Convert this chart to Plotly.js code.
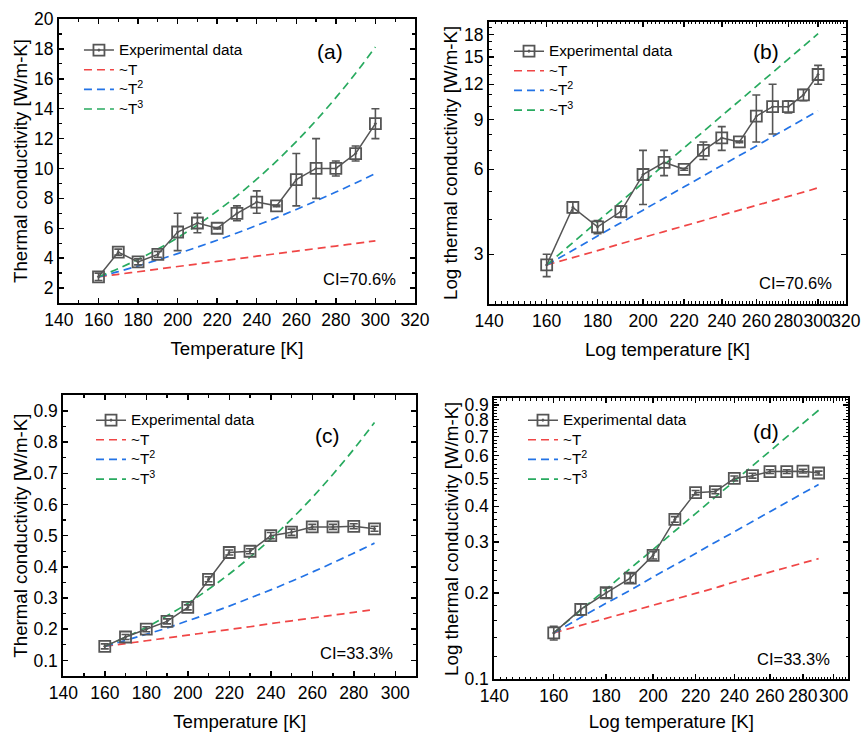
<!DOCTYPE html>
<html>
<head>
<meta charset="utf-8">
<script src="https://cdn.plot.ly/plotly-3.0.1.min.js"></script>
<style>html,body{margin:0;padding:0;background:#fff;}#chart{width:862px;height:732px;}</style>
</head>
<body>
<div id="chart"></div>
<script>
// ---------- data: CI = 70.6% (panels a, b) ----------
const tempA = [160,170,180,190,200,210,220,230,240,250,260,270,280,290,300];
const expA  = [2.75,4.4,3.75,4.25,5.75,6.35,6.0,7.0,7.75,7.5,9.25,10.0,10.0,11.0,13.0];
const errA  = [0.25,0.2,0.2,0.2,1.25,0.65,0.05,0.5,0.75,0.05,1.75,2.0,0.5,0.5,1.0];
const fitA_T  = [2.75,2.92,3.09,3.27,3.44,3.61,3.78,3.95,4.13,4.30,4.47,4.64,4.81,4.98,5.16];
const fitA_T2 = [2.75,3.10,3.48,3.88,4.30,4.74,5.20,5.68,6.19,6.71,7.26,7.83,8.42,9.03,9.67];
const fitA_T3 = [2.75,3.30,3.92,4.61,5.37,6.22,7.15,8.17,9.28,10.49,11.80,13.21,14.74,16.37,18.13];

// ---------- data: CI = 33.3% (panels c, d) ----------
const tempC = [160,170,180,190,200,210,220,230,240,250,260,270,280,290];
const expC  = [0.145,0.175,0.200,0.225,0.270,0.360,0.446,0.450,0.500,0.511,0.528,0.528,0.530,0.522];
const errC  = [0.008,0.008,0.008,0.008,0.008,0.008,0.008,0.008,0.010,0.010,0.008,0.008,0.008,0.008];
const fitC_T  = [0.145,0.154,0.163,0.172,0.181,0.190,0.199,0.208,0.218,0.227,0.236,0.245,0.254,0.263];
const fitC_T2 = [0.145,0.164,0.184,0.204,0.227,0.250,0.274,0.300,0.326,0.354,0.383,0.413,0.444,0.476];
const fitC_T3 = [0.145,0.174,0.206,0.243,0.283,0.328,0.377,0.431,0.489,0.553,0.622,0.697,0.777,0.863];

const legendNames = ['Experimental data', '~T', '~T<sup>2</sup>', '~T<sup>3</sup>'];
const panelLabels = ['(a)', '(b)', '(c)', '(d)'];
const ciLabels = ['CI=70.6%', 'CI=70.6%', 'CI=33.3%', 'CI=33.3%'];
const xTitles = ['Temperature [K]', 'Log temperature [K]', 'Temperature [K]', 'Log temperature [K]'];
const yTitles = ['Thermal conductivity [W/m-K]', 'Log thermal conductivity [W/m-K]',
                 'Thermal conductivity [W/m-K]', 'Log thermal conductivity [W/m-K]'];

// ---------- styles ----------
const FONT = 'Liberation Sans, Arial, Helvetica, sans-serif';
const RED = 'rgb(240,70,70)', BLUE = 'rgb(35,115,230)', GREEN = 'rgb(40,170,95)', GREY = 'rgb(85,85,85)';
const DASH = '8px,5px';
const legendText = (s) => '<span style="font-size:15.3px">' + s + '</span>';

const panels = [
  {t: tempA, e: expA, err: errA, f1: fitA_T, f2: fitA_T2, f3: fitA_T3},
  {t: tempA, e: expA, err: errA, f1: fitA_T, f2: fitA_T2, f3: fitA_T3},
  {t: tempC, e: expC, err: errC, f1: fitC_T, f2: fitC_T2, f3: fitC_T3},
  {t: tempC, e: expC, err: errC, f1: fitC_T, f2: fitC_T2, f3: fitC_T3}
];

const traces = [];
panels.forEach((p, i) => {
  const sfx = i === 0 ? '' : String(i + 1);
  const xa = 'x' + sfx, ya = 'y' + sfx, lg = 'legend' + sfx;
  const fits = [[p.f1, RED, 2], [p.f2, BLUE, 3], [p.f3, GREEN, 4]];
  fits.forEach((f, k) => {
    traces.push({
      x: p.t, y: f[0], type: 'scatter', mode: 'lines', xaxis: xa, yaxis: ya,
      name: legendText(legendNames[k + 1]), legend: lg, legendrank: f[2],
      line: {color: f[1], width: 1.7, dash: DASH, shape: 'spline'}
    });
  });
  traces.push({
    x: p.t, y: p.e, type: 'scatter', mode: 'lines+markers', xaxis: xa, yaxis: ya,
    name: legendText(legendNames[0]), legend: lg, legendrank: 1,
    line: {color: GREY, width: 1.5},
    marker: {symbol: 'square-open-dot', size: 11, color: GREY, line: {color: GREY, width: 1.8}},
    error_y: {type: 'data', array: p.err, visible: true, color: GREY, thickness: 1.6, width: 4}
  });
});

// ---------- layout ----------
const baseAxis = {
  showline: true, linecolor: 'black', linewidth: 2, mirror: 'allticks',
  ticks: 'inside', ticklen: 5, tickwidth: 1.5, tickcolor: 'black',
  showgrid: false, zeroline: false, tickangle: 0,
  tickfont: {family: FONT, size: 17.5, color: 'black'}
};
function range(a, b, s) { const r = []; for (let v = a; v <= b + 1e-9; v += s) r.push(+v.toFixed(4)); return r; }
function xAx(extra, i) {
  return Object.assign({}, baseAxis, {
    title: {text: xTitles[i], font: {family: FONT, size: 18.7, color: 'black'}, standoff: 13}
  }, extra);
}
function yAx(extra, i) {
  return Object.assign({}, baseAxis, {
    title: {text: yTitles[i], font: {family: FONT, size: 18.7, color: 'black'}, standoff: 1}
  }, extra);
}
const minorLin = (d) => ({dtick: d, ticks: 'inside', ticklen: 3, tickwidth: 1.2, tickcolor: 'black'});
const minorArr = (vals) => ({tickmode: 'array', tickvals: vals, ticks: 'inside', ticklen: 2.5, tickwidth: 1, tickcolor: 'black'});

const xTicksAB = range(140, 320, 20);
const xTicksCD = range(140, 300, 20);
const yTicksB = [3, 6, 9, 12, 15, 18];
const yTicksD = range(0.1, 0.9, 0.1);

function legendAt(x, y) {
  return {x: x, y: y, xanchor: 'left', yanchor: 'top', bgcolor: 'rgba(0,0,0,0)', borderwidth: 0,
          font: {family: FONT, size: 12.8, color: 'black'}, traceorder: 'normal', itemwidth: 30};
}
function ann(text, x, y, size) {
  return {text: text, x: x, y: y, xref: 'paper', yref: 'paper', showarrow: false,
          xanchor: 'center', yanchor: 'middle', font: {family: FONT, size: size, color: 'black'}};
}

const layout = {
  width: 862, height: 732, margin: {l: 0, r: 0, t: 0, b: 0},
  paper_bgcolor: 'white', plot_bgcolor: 'white', font: {family: FONT, color: 'black'},
  xaxis: xAx({domain: [0.0684, 0.4814], range: [140, 320], tickmode: 'array', tickvals: xTicksAB,
              minor: minorLin(10), anchor: 'y'}, 0),
  yaxis: yAx({domain: [0.5861, 0.9740], range: [1, 20], tickmode: 'array', tickvals: range(2, 20, 2),
              minor: minorLin(1), anchor: 'x'}, 0),
  xaxis2: xAx({domain: [0.5673, 0.9814], type: 'log', range: [Math.log10(140), Math.log10(320)],
               tickmode: 'array', tickvals: xTicksAB, ticktext: xTicksAB.map(String),
               minor: minorArr(range(140, 320, 2)), anchor: 'y2'}, 1),
  yaxis2: yAx({domain: [0.5847, 0.9704], type: 'log', range: [Math.log10(2), Math.log10(20)],
               tickmode: 'array', tickvals: yTicksB, ticktext: yTicksB.map(String),
               minor: minorArr(range(2, 20, 1)), anchor: 'x2'}, 1),
  xaxis3: xAx({domain: [0.0734, 0.4826], range: [140, 310], tickmode: 'array', tickvals: xTicksCD,
               minor: minorLin(10), anchor: 'y3'}, 2),
  yaxis3: yAx({domain: [0.0765, 0.4600], range: [0.05, 0.95], tickmode: 'array', tickvals: yTicksD,
               ticktext: yTicksD.map(v => v.toFixed(1)), minor: minorLin(0.05), anchor: 'x3'}, 2),
  xaxis4: xAx({domain: [0.5734, 0.9841], type: 'log', range: [Math.log10(140), Math.log10(310)],
               tickmode: 'array', tickvals: xTicksCD, ticktext: xTicksCD.map(String),
               minor: minorArr(range(140, 310, 2)), anchor: 'y4'}, 3),
  yaxis4: yAx({domain: [0.0720, 0.4559], type: 'log', range: [-1, Math.log10(0.95)],
               tickmode: 'array', tickvals: yTicksD, ticktext: yTicksD.map(v => v.toFixed(1)),
               minor: minorArr(range(0.1, 0.95, 0.02)), anchor: 'x4'}, 3),
  legend: legendAt(0.0916, 0.9518),
  legend2: legendAt(0.5905, 0.9504),
  legend3: legendAt(0.1056, 0.4463),
  legend4: legendAt(0.6067, 0.4463),
  showlegend: true,
  annotations: [
    ann(panelLabels[0], 0.3828, 0.9290, 21), ann(ciLabels[0], 0.4176, 0.6189, 16.5),
    ann(panelLabels[1], 0.8886, 0.9290, 21), ann(ciLabels[1], 0.9234, 0.6134, 16.5),
    ann(panelLabels[2], 0.3805, 0.4044, 21), ann(ciLabels[2], 0.4130, 0.1079, 16.5),
    ann(panelLabels[3], 0.8886, 0.4112, 21), ann(ciLabels[3], 0.9211, 0.0997, 16.5)
  ]
};

Plotly.newPlot('chart', traces, layout, {displayModeBar: false, staticPlot: true});
</script>
</body>
</html>
